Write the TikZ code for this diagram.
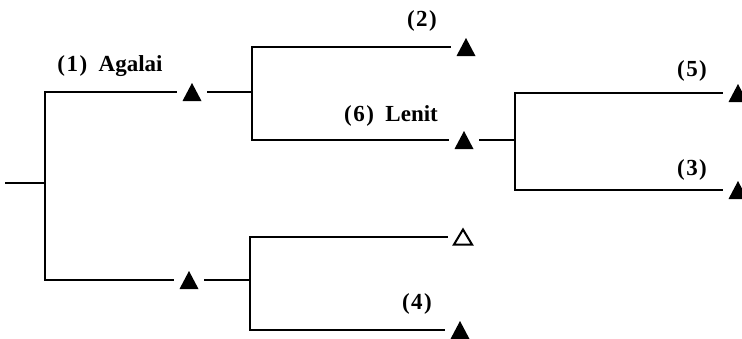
\documentclass[tikz,border=0pt]{standalone}
\usepackage{fontspec}
\setmainfont{Liberation Serif}
\newcommand{\pn}[1]{(\kern1.5pt#1\kern1.5pt)}
\begin{document}
\begin{tikzpicture}[x=1pt,y=1pt,
  line width=1.4pt,
  tri/.style={circle, minimum size=29pt, inner sep=0pt,
    path picture={\fill[black] ([yshift=9pt]path picture bounding box.center) -- ++(-9.5pt,-18pt) -- ++(19pt,0pt) -- cycle;}},
  trio/.style={circle, minimum size=29pt, inner sep=0pt,
    path picture={\draw[black,line width=2pt,line join=miter] ([yshift=7.5pt]path picture bounding box.center) -- ++(-9pt,-15pt) -- ++(18pt,0pt) -- cycle;}},
  lab/.style={font=\fontsize{23}{25}\selectfont\bfseries, inner sep=0pt}
]
\useasboundingbox (0,0) rectangle (742,-338);
% triangles
\node[tri]  (t1) at (192,-92) {};
\node[tri]  (t4) at (189,-280) {};
\node[tri]  (t2) at (466,-47) {};
\node[tri]  (t6) at (464,-140) {};
\node[tri]  (t5) at (738,-93) {};
\node[tri]  (t3) at (738,-190) {};
\node[trio] (th) at (463,-237) {};
\node[tri]  (t7) at (460,-330) {};
% junctions
\coordinate (s0) at (5,-183);
\coordinate (j0) at (45,-183);
\coordinate (j1) at (252,-92);
\coordinate (j2) at (515,-140);
\coordinate (j3) at (250,-280);
% connectors
\draw (s0) -- (j0);
\draw (t1) -| (j0) |- (t4);
\draw (t1) -- (j1);
\draw (t2) -| (j1) |- (t6);
\draw (t6) -- (j2);
\draw (t5) -| (j2) |- (t3);
\draw (t4) -- (j3);
\draw (th) -| (j3) |- (t7);
% labels
\node[lab] (l1) at (110,-66) {\pn{1}\enspace Agalai};
\node[lab] (l2) at (422,-21) {\pn{2}};
\node[lab] (l6) at (391,-116) {\pn{6}\enspace Lenit};
\node[lab] (l5) at (692,-71) {\pn{5}};
\node[lab] (l3) at (692,-170) {\pn{3}};
\node[lab] (l4) at (417,-304) {\pn{4}};
\end{tikzpicture}
\end{document}
